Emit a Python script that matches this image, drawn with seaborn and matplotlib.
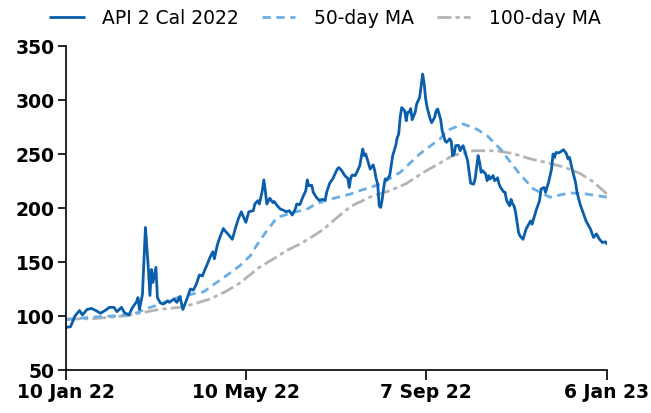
import pandas as pd
import seaborn as sns
import matplotlib
matplotlib.use("Agg")
from matplotlib import pyplot as plt

# days since 10 Jan 2022 and price
api_days = [0, 3, 6, 9, 11, 14, 17, 20, 23, 26, 29, 32, 34, 37, 39, 42, 44, 47, 48, 49,
            51, 53, 55, 56, 57, 58, 60, 61, 63, 65, 68, 69, 72, 74, 76, 78, 81, 83, 85, 87,
            89, 91, 93, 94, 96, 98, 99, 101, 103, 105, 106, 108, 111, 113, 115, 117, 118, 120, 122,
            125, 126, 128, 129, 131, 132, 133, 134, 136, 138, 139, 141, 143, 145, 147, 149, 151,
            153, 154, 156, 158, 160, 161, 162, 164, 165, 167, 169, 171, 173, 174, 176, 178, 179,
            181, 182, 184, 186, 188, 189, 190, 191, 193, 194, 196, 197, 198, 199, 200, 202, 203,
            205, 206, 207, 208, 209, 210, 211, 212, 213, 214, 216, 217, 218, 220, 221, 222, 223,
            224, 226, 227, 228, 229, 230, 231, 233, 234, 236, 237, 238, 239, 240, 241, 243, 244,
            246, 247, 248, 250, 251, 252, 253, 254, 256, 257, 258, 259, 260, 262, 263, 264, 265,
            266, 268, 269, 270, 272, 273, 274, 275, 276, 277, 278, 280, 281, 282, 283, 285, 286,
            287, 288, 289, 290, 292, 293, 294, 296, 297, 298, 299, 300, 301, 302, 303, 305, 307,
            310, 311, 312, 314, 316, 317, 319, 320, 322, 324, 325, 326, 327, 329, 331, 332, 334,
            335, 336, 338, 340, 341, 343, 345, 347, 350, 352, 354, 356, 358, 360, 361]
api_price = [89.5, 90, 100, 105, 101, 106, 107, 105, 102.5, 105, 108, 108, 104, 108, 103, 101, 107, 113, 117, 106,
             120, 182, 143, 119, 143, 131, 145, 117, 112, 111, 114, 112.6, 115.7, 112.6, 118, 106, 117, 125, 124, 129.6,
             138, 137, 144, 147, 154, 159.5, 153, 166, 174, 181, 179, 176, 171, 181, 190, 196.5, 193, 186.7, 196.5,
             197.5, 203.7, 206.8, 203.7, 216, 226, 216, 203.7, 209, 205, 206, 202, 199, 198, 196.5, 197.5, 193.5,
             199, 203.7, 203, 210, 216, 226, 220.6, 221, 214.5, 210, 207, 208, 207.6, 215, 223, 227, 230,
             236, 237.5, 234.6, 230, 227.5, 219, 228, 230.5, 230, 233, 239, 247, 254.6, 248.5, 250, 240.7, 236,
             240, 234.6, 226.9, 222, 202, 200.5, 208, 219, 227, 226, 230, 239, 248.5, 257.7, 265, 268.5, 284,
             293, 290, 280.8, 288.6, 288.6, 292, 281.8, 288.6, 296.3, 302.5, 313, 324, 315, 301, 293, 282.4, 279,
             284, 290, 291.7, 282, 271.6, 267, 262, 260.8, 264, 262, 248.5, 250, 257.7, 258, 253, 256, 257.7,
             253, 243.8, 233, 223, 222, 226.8, 237.6, 248.5, 242, 233, 234.6, 231.5, 225.3, 230, 226.8, 230, 225.3,
             226, 228, 222, 219, 215, 214.5, 207, 202, 208, 203.7, 202, 196, 186.6, 177.3, 174, 171, 180.5,
             188, 185, 189.8, 199, 206.8, 217.6, 219, 214.5, 223.7, 236, 250, 246.8, 251.4, 251, 253, 254, 250,
             245.4, 246.8, 234.6, 223.7, 214.5, 203.7, 196, 188, 180.5, 172.7, 176, 171, 168, 168.7, 166.7]

ma50_days = [0, 18, 36, 47, 54, 63, 69, 79, 92, 99, 107, 116, 123, 127, 134, 141, 152, 161, 167, 176,
             183, 190, 196, 210, 223, 236, 250, 254, 265, 274, 281, 292, 294, 301, 303, 312, 323, 336, 347, 361]
ma50_price = [96.6, 99, 100.3, 102.8, 107, 111, 114.8, 118.8, 122.5, 129.6, 137.3, 146.5, 155.8, 165, 179, 191.3,
              196, 199, 204, 208, 210.5, 213, 216, 222.2, 233, 250, 264.5, 271.6, 277.8, 273, 267, 251.5, 247,
              234.6, 231, 217.6, 210, 214, 213, 210]

ma100_days = [0, 18, 41, 52, 63, 76, 85, 96, 107, 116, 129, 141, 147, 156, 165, 172, 181, 190, 205, 216,
              227, 238, 250, 258, 272, 287, 298, 310, 321, 332, 343, 352, 361]
ma100_price = [97.2, 97.5, 100.3, 103.4, 106.3, 108, 111, 115.7, 123, 130.5, 145, 155, 160.5, 166.5, 174, 180.5,
               191.3, 201.5, 211.4, 216, 222.5, 232.5, 242, 248.5, 253, 253, 250.5, 245.4, 242, 238, 232, 224, 213]

tick_days = [0, 120, 240, 361]
tick_labels = ["10 Jan 22", "10 May 22", "7 Sep 22", "6 Jan 23"]
y_ticks = [50, 100, 150, 200, 250, 300, 350]

start = pd.Timestamp("2022-01-10")
api = pd.DataFrame({"date": start + pd.to_timedelta(api_days, unit="D"), "price": api_price})
ma50 = pd.DataFrame({"date": start + pd.to_timedelta(ma50_days, unit="D"), "price": ma50_price})
ma100 = pd.DataFrame({"date": start + pd.to_timedelta(ma100_days, unit="D"), "price": ma100_price})

sns.set_theme(style="white")
plt.rcParams["font.family"] = ["DejaVu Sans"]
plt.rcParams["text.color"] = "black"
plt.rcParams["xtick.color"] = "black"
plt.rcParams["ytick.color"] = "black"

fig = plt.figure(figsize=(6.51, 4.14), dpi=100)
ax = fig.add_axes([0.1014, 0.1039, 0.8310, 0.7826])

sns.lineplot(ma100, x="date", y="price", ax=ax, color="#b4b4b4", lw=2.0, label="100-day MA")
ax.lines[-1].set_dashes((5, 1.5, 1.5, 1.5))
sns.lineplot(ma50, x="date", y="price", ax=ax, color="#6aaee4", lw=2.0, label="50-day MA")
ax.lines[-1].set_dashes((3, 2))
sns.lineplot(api, x="date", y="price", ax=ax, color="#0a5eab", lw=2.0, label="API 2 Cal 2022")

ax.set_xlim(start, start + pd.Timedelta(days=361))
ax.set_ylim(50, 350)
ax.set_xticks(start + pd.to_timedelta(tick_days, unit="D"))
ax.set_xticklabels(tick_labels, fontsize=13.5, fontweight="bold")
ax.set_yticks(y_ticks)
ax.set_yticklabels([str(v) for v in y_ticks], fontsize=13.5, fontweight="bold")
ax.set_xlabel("")
ax.set_ylabel("")
ax.tick_params(axis="x", length=7, width=1.2, direction="out", bottom=True, pad=2)
ax.tick_params(axis="y", length=6, width=1.2, direction="out", left=True, pad=2)
for s in ["top", "right"]:
    ax.spines[s].set_visible(False)
for s in ["left", "bottom"]:
    ax.spines[s].set_color("black")
    ax.spines[s].set_linewidth(1.2)

handles, labels = ax.get_legend_handles_labels()
order = [2, 1, 0]
ax.legend([handles[i] for i in order], [labels[i] for i in order], ncol=3, frameon=False,
          loc="center", bbox_to_anchor=(0.5, 0.955), bbox_transform=fig.transFigure,
          fontsize=13.5, handlelength=1.8, handletextpad=1.0, columnspacing=1.2)

plt.savefig("out.png", dpi=100)
